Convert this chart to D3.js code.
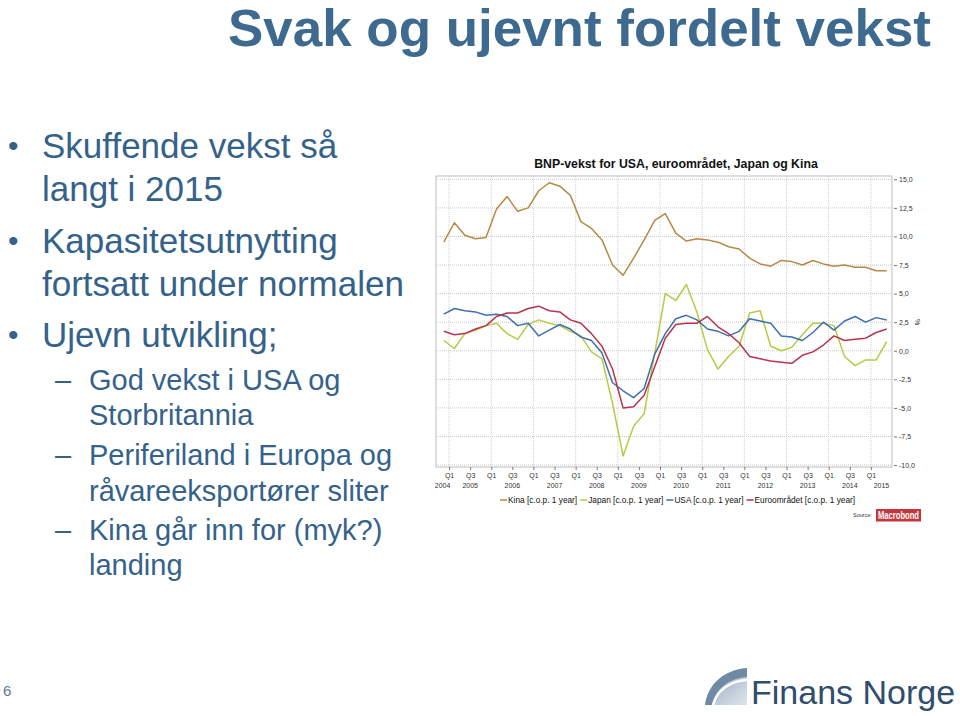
<!DOCTYPE html>
<html>
<head>
<meta charset="utf-8">
<script src="https://cdn.jsdelivr.net/npm/d3@7"></script>
<style>
  html, body { margin: 0; padding: 0; background: #fff; }
  svg { display: block; font-family: Arial, "Liberation Sans", sans-serif; }
</style>
</head>
<body>
<svg id="slide" width="960" height="716"></svg>
<script>
// ---------------- DATA ----------------
// Quarterly, first point Q4 2004, last point Q2 2015 (43 points)
const firstQuarter = "Q4 2004";
const kina  = [9.5, 11.2, 10.1, 9.8, 9.9, 12.4, 13.5, 12.2, 12.5, 14.0, 14.7, 14.4, 13.6, 11.3, 10.7, 9.7, 7.5, 6.6, 8.1, 9.7, 11.4,
               12.0, 10.3, 9.6, 9.8, 9.7, 9.5, 9.1, 8.9, 8.1, 7.6, 7.4, 7.9, 7.8, 7.5, 7.9, 7.6, 7.4, 7.5, 7.3, 7.3, 7.0, 7.0];
const japan = [0.9, 0.2, 1.5, 1.8, 2.2, 2.4, 1.5, 1.0, 2.3, 2.7, 2.4, 2.2, 1.7, 1.3, -0.1, -0.7, -4.6, -9.2, -6.6, -5.5, -0.2,
               5.0, 4.4, 5.8, 3.4, 0.1, -1.6, -0.5, 0.4, 3.3, 3.5, 0.4, 0.0, 0.3, 1.4, 2.4, 2.4, 2.2, -0.5, -1.3, -0.8, -0.8, 0.8];
const usa   = [3.2, 3.7, 3.5, 3.4, 3.1, 3.2, 3.0, 2.2, 2.4, 1.3, 1.8, 2.3, 1.9, 1.2, 0.9, -0.2, -2.8, -3.5, -4.1, -3.3, -0.3,
               1.5, 2.8, 3.1, 2.7, 1.9, 1.7, 1.3, 1.7, 2.8, 2.6, 2.4, 1.3, 1.2, 0.9, 1.6, 2.5, 1.8, 2.6, 3.0, 2.5, 2.9, 2.7];
const euro  = [1.7, 1.4, 1.5, 1.9, 2.2, 3.0, 3.3, 3.3, 3.7, 3.9, 3.5, 3.4, 2.7, 2.4, 1.5, 0.4, -1.6, -5.0, -4.9, -3.9, -1.4,
               1.1, 2.3, 2.4, 2.4, 3.0, 2.1, 1.5, 0.7, -0.5, -0.7, -0.9, -1.0, -1.1, -0.4, -0.1, 0.5, 1.3, 0.9, 1.0, 1.1, 1.6, 1.9];

const seriesNames  = ["Kina [c.o.p. 1 year]", "Japan [c.o.p. 1 year]", "USA [c.o.p. 1 year]", "Euroområdet [c.o.p. 1 year]"];
const seriesColors = ["#b48a45", "#b9c945", "#3f6fae", "#b8334c"];
const yTicks = [15, 12.5, 10, 7.5, 5, 2.5, 0, -2.5, -5, -7.5, -10];
const years = [2004, 2005, 2006, 2007, 2008, 2009, 2010, 2011, 2012, 2013, 2014, 2015];
const quarterLabels = ["Q1", "Q3"];

const chartTitle = "BNP-vekst for USA, euroområdet, Japan og Kina";
const slideTitle = "Svak og ujevnt fordelt vekst";
const bullets = [
  {level: 1, lines: ["Skuffende vekst så", "langt i 2015"]},
  {level: 1, lines: ["Kapasitetsutnytting", "fortsatt under normalen"]},
  {level: 1, lines: ["Ujevn utvikling;"]},
  {level: 2, lines: ["God vekst i USA og", "Storbritannia"]},
  {level: 2, lines: ["Periferiland i Europa og", "råvareeksportører sliter"]},
  {level: 2, lines: ["Kina går inn for (myk?)", "landing"]}
];

// ---------------- DRAW ----------------
const svg = d3.select("#slide");
const textBlue = "#34628a";

// Slide title
svg.append("text").attr("x", 228).attr("y", 46)
  .attr("font-size", 52).attr("font-weight", "bold").attr("fill", "#3d6a8e")
  .attr("textLength", 703).attr("lengthAdjust", "spacingAndGlyphs")
  .text(slideTitle);

// Bullets
const baselines = [[157.5, 200.5], [253, 296], [347], [390, 425], [465, 501], [540, 575]];
bullets.forEach((b, bi) => {
  b.lines.forEach((ln, li) => {
    const y = baselines[bi][li];
    if (b.level === 1) {
      if (li === 0) svg.append("text").attr("x", 8).attr("y", y - 2).attr("font-size", 30)
        .attr("fill", textBlue).text("•");
      svg.append("text").attr("x", 42).attr("y", y).attr("font-size", 35).attr("fill", textBlue).text(ln);
    } else {
      if (li === 0) svg.append("text").attr("x", 55).attr("y", y).attr("font-size", 29)
        .attr("fill", textBlue).text("–");
      svg.append("text").attr("x", 89).attr("y", y).attr("font-size", 29).attr("fill", textBlue).text(ln);
    }
  });
});

// Page number
svg.append("text").attr("x", 3).attr("y", 696).attr("font-size", 15).attr("fill", "#5a7a95").text("6");

// ---------------- CHART ----------------
const L = 436, R = 892, T = 176, B = 467;
const x = d3.scaleLinear().domain([-0.24, 43]).range([L, R]);
const y = d3.scaleLinear().domain([-10.17, 15.29]).range([B, T]);

svg.append("text").attr("x", 676).attr("y", 168).attr("text-anchor", "middle")
  .attr("font-size", 12.3).attr("font-weight", "bold").attr("fill", "#111").text(chartTitle);

const g = svg.append("g");

// Horizontal grid
g.selectAll(".hg").data(yTicks).join("line")
  .attr("x1", L).attr("x2", R).attr("y1", d => y(d)).attr("y2", d => y(d))
  .attr("stroke", "#c8c8c8").attr("stroke-width", 1).attr("stroke-dasharray", "1,1");

// Quarter tick positions (index of quarter start relative to Q4 2004)
const qTicks = [];
years.forEach(yr => {
  [0, 2].forEach((q, k) => {
    const idx = 1 + 4 * (yr - 2005) + q;
    if (idx >= 0 && idx <= 42) qTicks.push({idx, label: quarterLabels[k], q1: k === 0});
  });
});

// Vertical grid at Q1
g.selectAll(".vg").data(qTicks.filter(d => d.q1)).join("line")
  .attr("x1", d => x(d.idx)).attr("x2", d => x(d.idx)).attr("y1", T).attr("y2", B)
  .attr("stroke", "#cfcfcf").attr("stroke-width", 1).attr("stroke-dasharray", "1,1");

// Frame
g.append("rect").attr("x", L).attr("y", T).attr("width", R - L).attr("height", B - T)
  .attr("fill", "none").attr("stroke", "#bdbdbd").attr("stroke-width", 1);

// Right axis
const yAxis = d3.axisRight(y).tickValues(yTicks).tickSize(0).tickPadding(7)
  .tickFormat(d => d3.format(".1f")(d).replace(".", ",").replace("−", "-"));
const ya = svg.append("g").attr("transform", `translate(${R},0)`).call(yAxis);
ya.select(".domain").remove();
ya.selectAll("text").attr("font-size", 7).attr("fill", "#333").attr("font-family", "Arial, sans-serif");
ya.selectAll(".tick").append("line").attr("x1", 2).attr("x2", 5).attr("stroke", "#777");
svg.append("text").attr("transform", `translate(915,322) rotate(90)`).attr("text-anchor", "middle")
  .attr("font-size", 7).attr("fill", "#333").text("%");

// Bottom axis
const xAxis = d3.axisBottom(x).tickValues(qTicks.map(d => d.idx)).tickSize(3).tickPadding(3)
  .tickFormat((d, i) => qTicks[i].label);
const xa = svg.append("g").attr("transform", `translate(0,${B})`).call(xAxis);
xa.select(".domain").remove();
xa.selectAll("line").attr("stroke", "#777");
xa.selectAll("text").attr("font-size", 7).attr("fill", "#333").attr("font-family", "Arial, sans-serif");

// Year labels centred on visible year spans
svg.selectAll(".yr").data(years).join("text")
  .attr("x", d => {
    const s = Math.max(x.domain()[0], 1 + 4 * (d - 2005));
    const e = Math.min(x.domain()[1], 5 + 4 * (d - 2005));
    return x((s + e) / 2);
  })
  .attr("y", 488).attr("text-anchor", "middle").attr("font-size", 7).attr("fill", "#333")
  .text(d => d);

// Lines
const allSeries = [kina, japan, usa, euro];
const line = d3.line().x((d, i) => x(i + 0.5)).y(d => y(d));
allSeries.forEach((s, k) => {
  g.append("path").datum(s).attr("d", line).attr("fill", "none")
    .attr("stroke", seriesColors[k]).attr("stroke-width", 1.5).attr("stroke-linejoin", "round");
});

// Legend
const lg = svg.append("g");
let lx = 500;
seriesNames.forEach((nm, k) => {
  lg.append("line").attr("x1", lx).attr("x2", lx + 7).attr("y1", 500).attr("y2", 500)
    .attr("stroke", seriesColors[k]).attr("stroke-width", 1.5);
  const t = lg.append("text").attr("x", lx + 8).attr("y", 503).attr("font-size", 8.3).attr("fill", "#111").text(nm);
  lx += 8 + t.node().getComputedTextLength() + 3;
});

// Source
svg.append("text").attr("x", 872).attr("y", 517).attr("text-anchor", "end").attr("font-size", 5.5)
  .attr("fill", "#333").text("Source:");
svg.append("rect").attr("x", 876).attr("y", 509).attr("width", 45).attr("height", 12.5).attr("fill", "#c5353d");
svg.append("text").attr("x", 878).attr("y", 519).attr("font-size", 10).attr("font-weight", "bold")
  .attr("fill", "#fff").attr("textLength", 41).attr("lengthAdjust", "spacingAndGlyphs").text("Macrobond");

// ---------------- LOGO ----------------
const defs = svg.append("defs");
const grad = defs.append("linearGradient").attr("id", "lg1").attr("x1", 0).attr("y1", 0).attr("x2", 1).attr("y2", 1);
grad.append("stop").attr("offset", 0).attr("stop-color", "#8aa0b5");
grad.append("stop").attr("offset", 1).attr("stop-color", "#dfe6ec");
// dome
svg.append("path").attr("d", "M705,705 C708,684 724,670 747,668 L747,705 Z").attr("fill", "url(#lg1)");
// darker top band
svg.append("path").attr("d", "M705,705 C708,684 724,670 747,668 L747,677 C728,678 715,690 712,705 Z")
  .attr("fill", "#6f8aa3");
// white swoosh
svg.append("path").attr("d", "M713,705 C717,690 730,681 747,680").attr("fill", "none")
  .attr("stroke", "#fff").attr("stroke-width", 2.5);
svg.append("text").attr("x", 751).attr("y", 704).attr("font-size", 34).attr("fill", "#2f4d6c")
  .text("Finans Norge");
</script>
</body>
</html>
